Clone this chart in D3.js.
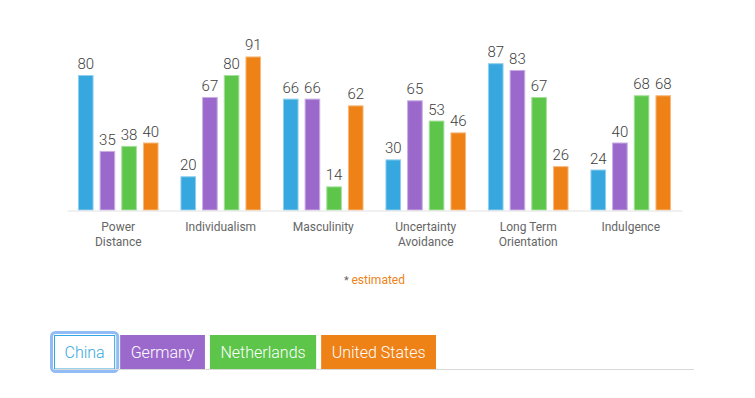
<!DOCTYPE html>
<html>
<head>
<meta charset="utf-8">
<script src="https://cdn.jsdelivr.net/npm/d3@7"></script>
<style>
  html, body { margin: 0; padding: 0; background: #fff; }
  svg { display: block; font-family: Roboto, "Open Sans", sans-serif; }
</style>
</head>
<body>
<svg id="chart" width="755" height="398"></svg>
<script>
const categories = ["Power Distance", "Individualism", "Masculinity", "Uncertainty Avoidance", "Long Term Orientation", "Indulgence"];
const series = ["China", "Germany", "Netherlands", "United States"];
const china = [80, 20, 66, 30, 87, 24];
const germany = [35, 67, 66, 65, 83, 40];
const netherlands = [38, 80, 14, 53, 67, 68];
const unitedStates = [40, 91, 62, 46, 26, 68];
const colors = ["#36a7df", "#9b69cb", "#5dc54a", "#ee8217"];
const yDomain = [0, 100];

(function () {
const values = [china, germany, netherlands, unitedStates];
const svg = d3.select("#chart");

const plotLeft = 67, plotRight = 682, plotBase = 210, plotTop = 41.25;
const x0 = d3.scaleBand().domain(categories).range([plotLeft, plotRight]).paddingInner(0.2137).paddingOuter(0.2137 / 2);
const x1 = d3.scaleBand().domain(series).range([0, x0.bandwidth()]).paddingInner(0.28).paddingOuter(0);
const y = d3.scaleLinear().domain(yDomain).range([plotBase, plotTop]);
const color = d3.scaleOrdinal().domain(series).range(colors);

const data = categories.map((c, i) => ({ cat: c, vals: series.map((s, j) => ({ s, v: values[j][i] })) }));

const g = svg.selectAll("g.group").data(data).join("g")
  .attr("class", "group")
  .attr("transform", d => `translate(${x0(d.cat)},0)`);

g.selectAll("rect").data(d => d.vals).join("rect")
  .attr("x", d => x1(d.s) + 0.5)
  .attr("y", d => y(d.v) + 0.5)
  .attr("width", x1.bandwidth() - 1)
  .attr("height", d => y(0) - y(d.v) - 0.5)
  .attr("fill", d => color(d.s))
  .attr("stroke", d => d3.interpolateRgb(color(d.s), "#fff")(0.45))
  .attr("stroke-width", 1);

g.selectAll("text.val").data(d => d.vals).join("text")
  .attr("class", "val")
  .attr("x", d => x1(d.s) + x1.bandwidth() / 2)
  .attr("y", d => y(d.v) - 6)
  .attr("text-anchor", "middle")
  .attr("font-size", 15)
  .attr("font-weight", 300)
  .attr("fill", "#3d3d3d")
  .text(d => d.v);

// axis baseline
const xAxis = d3.axisBottom(x0).tickSize(0).tickFormat("");
const ax = svg.append("g").attr("transform", `translate(0,${plotBase + 0.5})`).call(xAxis);
ax.select(".domain").attr("stroke", "#e2e2e2").attr("stroke-width", 1);

// category labels (wrapped)
function wrapLines(text, width, measure) {
  const words = text.split(" ");
  const lines = [];
  let line = [];
  words.forEach(w => {
    const test = line.concat(w).join(" ");
    if (line.length && measure(test) > width) { lines.push(line.join(" ")); line = [w]; }
    else line.push(w);
  });
  if (line.length) lines.push(line.join(" "));
  return lines;
}
const measurer = svg.append("text").attr("font-size", 12).attr("visibility", "hidden");
const measure = s => { measurer.text(s); return measurer.node().getComputedTextLength(); };

svg.selectAll("text.cat").data(categories).join("text")
  .attr("class", "cat")
  .attr("text-anchor", "middle")
  .attr("font-size", 12)
  .attr("fill", "#666")
  .each(function (c) {
    const lines = wrapLines(c, 76, measure);
    const t = d3.select(this);
    lines.forEach((l, i) => {
      t.append("tspan")
        .attr("x", x0(c) + x0.bandwidth() / 2)
        .attr("y", 231 + i * 15)
        .text(l);
    });
  });
measurer.remove();

// note
const note = svg.append("text")
  .attr("x", (plotLeft + plotRight) / 2)
  .attr("y", 284)
  .attr("text-anchor", "middle")
  .attr("font-size", 12);
note.append("tspan").attr("fill", "#666").attr("font-size", 11).text("* ");
note.append("tspan").attr("fill", colors[3]).text("estimated");

// legend tabs
const legend = svg.append("g");
svg.append("line")
  .attr("x1", 54).attr("x2", 694)
  .attr("y1", 369.5).attr("y2", 369.5)
  .attr("stroke", "#d9d9d9").attr("stroke-width", 1);

let lx = 54;
series.forEach((s, i) => {
  const tg = legend.append("g");
  const txt = tg.append("text")
    .attr("font-size", 16)
    .attr("font-weight", 300)
    .attr("y", 357.5)
    .text(s);
  const w = txt.node().getComputedTextLength() + 21;
  const active = i === 0;
  if (active) {
    tg.insert("rect", "text")
      .attr("x", lx - 2.5).attr("y", 332.5)
      .attr("width", w + 5).attr("height", 39)
      .attr("rx", 4)
      .attr("fill", "none")
      .attr("stroke", "#7eb0f4")
      .attr("stroke-width", 3)
      .attr("opacity", 0.85);
  }
  tg.insert("rect", "text")
    .attr("x", active ? lx + 0.5 : lx).attr("y", active ? 335.5 : 335)
    .attr("width", active ? w - 1 : w).attr("height", active ? 33.5 : 34)
    .attr("fill", active ? "#fff" : color(s))
    .attr("stroke", active ? color(s) : "none")
    .attr("stroke-width", 1);
  txt.attr("x", lx + w / 2).attr("text-anchor", "middle")
    .attr("fill", active ? color(s) : "#fff");
  lx += w + 5;
});
})();
</script>
</body>
</html>
